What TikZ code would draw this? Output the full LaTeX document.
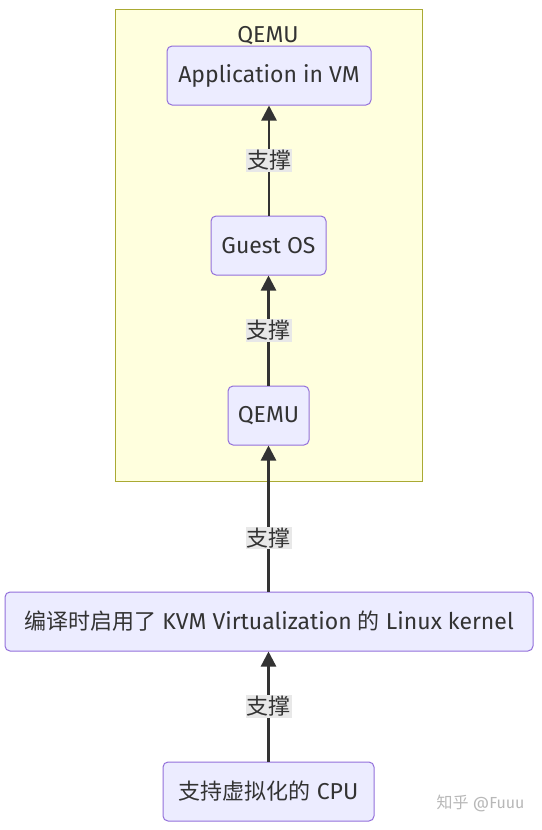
\documentclass[tikz,border=0pt]{standalone}
\usepackage{fontspec}
\setmainfont{Fira Sans}
\newfontfamily\cjk{Noto Sans CJK SC}
\usetikzlibrary{arrows.meta}
\definecolor{nodefill}{HTML}{ECECFF}
\definecolor{nodeline}{HTML}{9370DB}
\definecolor{clfill}{HTML}{FFFFDE}
\definecolor{clline}{HTML}{AAAA33}
\definecolor{txt}{HTML}{333333}
\definecolor{lblbg}{HTML}{E8E8E8}
\tikzset{
  box/.style={draw=nodeline, fill=nodefill, rounded corners=5pt, line width=1pt,
    minimum height=59pt, inner sep=0pt, text=txt, font=\fontsize{23}{27}\selectfont},
  lbl/.style={fill=lblbg, text=txt, inner sep=1pt, font=\fontsize{22}{25}\selectfont\cjk},
  edge/.style={draw=txt, line width=2.4pt, -{Triangle[length=15pt,width=15pt]}},
}
\begin{document}
\begin{tikzpicture}[x=1pt,y=-1pt]
\useasboundingbox (0,0) rectangle (541,830);
\fill[white] (0,0) rectangle (541,830);
\draw[clline, fill=clfill, line width=1pt] (115,9) rectangle (422,481);
\node[text=txt, font=\fontsize{23}{27}\selectfont] (title) at (268,36) {QEMU};
\node[box, minimum width=204pt] (app) at (269,75.5) {Application in VM};
\node[box, minimum width=115pt] (guest) at (268.5,245.5) {Guest OS};
\node[box, minimum width=81pt] (qemu) at (268.5,415.5) {QEMU};
\node[box, minimum width=528pt] (kernel) at (269,621.5) {{\cjk\fontsize{22}{27}\selectfont 编译时启用了} KVM Virtualization {\cjk\fontsize{22}{27}\selectfont 的} Linux kernel};
\node[box, minimum width=211pt] (cpu) at (268.5,791.5) {{\cjk\fontsize{22}{27}\selectfont 支持虚拟化的} CPU};
\coordinate (k1) at (kernel.north -| qemu);
\coordinate (k2) at (kernel.south -| qemu);
\coordinate (g1) at (guest.north -| app);
\coordinate (q1) at (qemu.north -| guest);
\coordinate (c1) at (cpu.north -| qemu);
\draw[edge] (g1) -- node[lbl] {支撑} (app.south);
\draw[edge] (q1) -- node[lbl] {支撑} (guest.south);
\draw[edge] (k1) -- node[lbl, pos=0.367] {支撑} (qemu.south);
\draw[edge] (c1) -- node[lbl] {支撑} (k2);
\node[text=black!28, font=\fontsize{16}{19}\selectfont, anchor=east] (wm) at (528,803) {{\cjk 知乎} @Fuuu};
\end{tikzpicture}
\end{document}
